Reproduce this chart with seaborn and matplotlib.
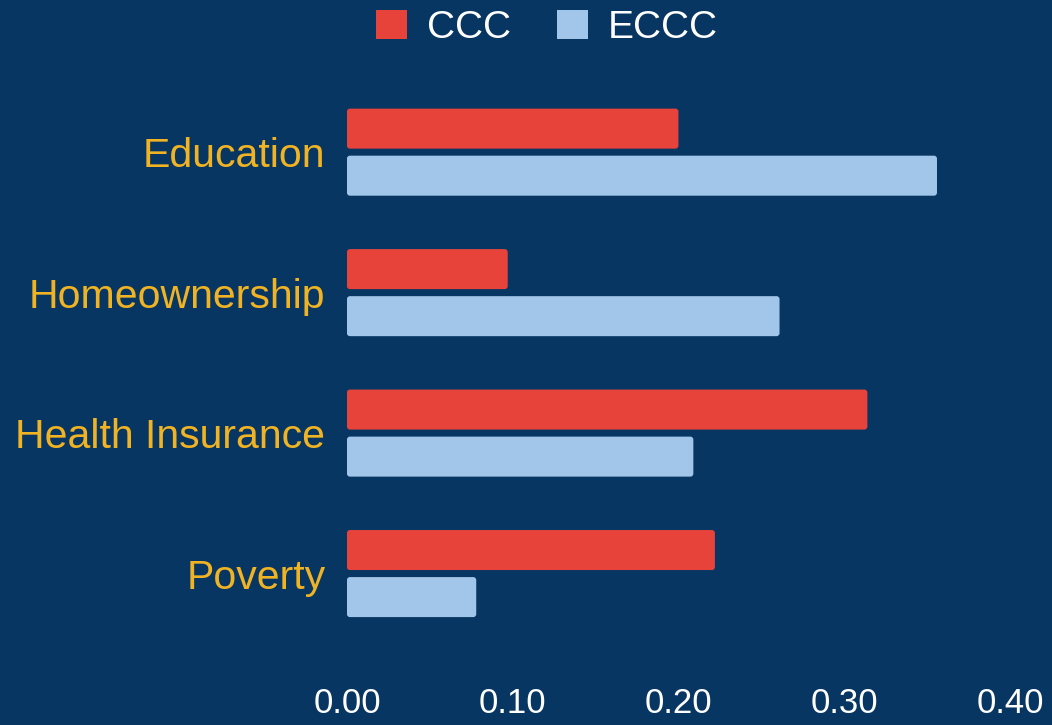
import matplotlib
matplotlib.use("Agg")
import matplotlib.pyplot as plt
import seaborn as sns
import pandas as pd
from matplotlib.patches import Patch, FancyBboxPatch

BG = "#083662"
RED = "#E8433A"
BLUE = "#A2C6E9"
GOLD = "#F0B323"

categories = ["Education", "Homeownership", "Health Insurance", "Poverty"]
ccc = [0.200, 0.097, 0.314, 0.222]
eccc = [0.356, 0.261, 0.209, 0.078]
groups = ["CCC", "ECCC"]
xticks = [0.0, 0.1, 0.2, 0.3, 0.4]

df = pd.DataFrame({
    "category": categories * 2,
    "value": ccc + eccc,
    "group": ["CCC"] * len(categories) + ["ECCC"] * len(categories),
})

sns.set_theme(style="white")
plt.rcParams["font.family"] = ["Liberation Sans", "DejaVu Sans"]

fig = plt.figure(figsize=(10.52, 7.25), dpi=100, facecolor=BG)
ax = fig.add_axes([0.3298, 0.112, 0.6302, 0.775], facecolor=BG)

sns.barplot(data=df, y="category", x="value", hue="group", order=categories,
            hue_order=groups, palette=[RED, BLUE], orient="h",
            width=0.67, gap=0.15, ax=ax, legend=False, saturation=1)

ax.set_xlim(0, 0.4)
ax.set_ylim(3.5, -0.5)

# swap plain rectangles for slightly rounded ones
bbox = ax.get_window_extent()
x_per_px = 0.4 / bbox.width
y_per_px = 4.0 / bbox.height
for p in list(ax.patches):
    x, y = p.get_x(), p.get_y()
    w, h = p.get_width(), p.get_height()
    fb = FancyBboxPatch((x, y), w, h,
                        boxstyle=f"round,pad=0,rounding_size={3 * x_per_px}",
                        mutation_aspect=y_per_px / x_per_px,
                        facecolor=p.get_facecolor(), edgecolor="none")
    p.remove()
    ax.add_patch(fb)

ax.set_xticks(xticks)
ax.set_xticklabels([f"{t:.2f}" for t in xticks])
ax.set_xlabel("")
ax.set_ylabel("")
ax.tick_params(axis="x", colors="white", labelsize=25, length=0, pad=31)
ax.tick_params(axis="y", colors=GOLD, labelsize=29.5, length=0, pad=15.5)
for s in ax.spines.values():
    s.set_visible(False)
ax.grid(False)

handles = [Patch(facecolor=RED, edgecolor="none"), Patch(facecolor=BLUE, edgecolor="none")]
leg = fig.legend(handles, groups, loc="upper center", bbox_to_anchor=(0.52, 1.035),
                 ncol=2, frameon=False, fontsize=28, handlelength=0.8,
                 handleheight=0.8, handletextpad=0.5, columnspacing=1.2)
for t in leg.get_texts():
    t.set_color("white")

fig.savefig("out.png", dpi=100, facecolor=BG)
